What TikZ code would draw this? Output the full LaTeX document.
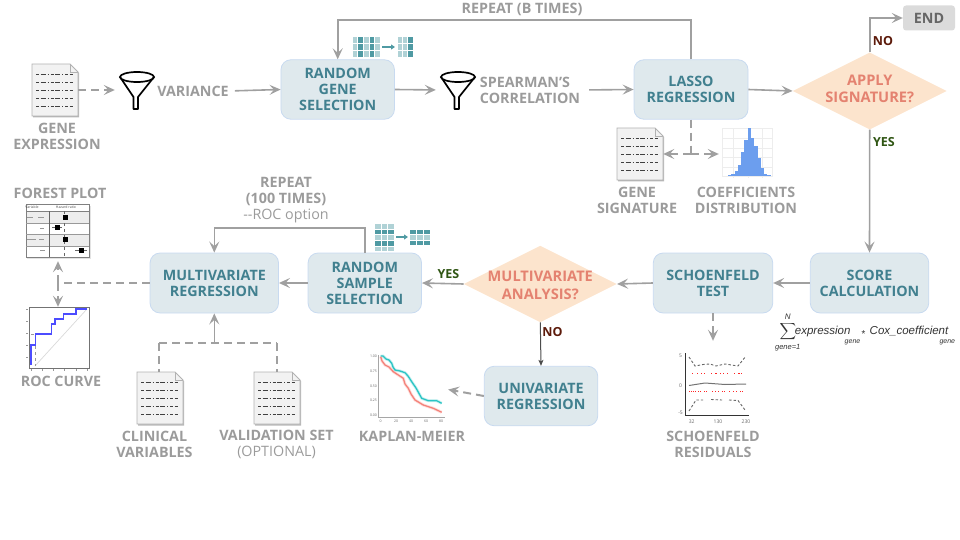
\documentclass[tikz,border=0pt]{standalone}
\RequirePackage{amsmath}
\RequirePackage{fontspec}
\RequirePackage{tikz}
\usetikzlibrary{arrows.meta}
\usetikzlibrary{shapes.geometric}
\setmainfont{Open Sans}
\newfontfamily\formulafont{Liberation Sans}

\definecolor{linegray}{HTML}{A0A0A0}
\definecolor{labelgray}{HTML}{9B9B9B}
\definecolor{boxfill}{HTML}{DFE9ED}
\definecolor{boxedge}{HTML}{C8DAF0}
\definecolor{boxtext}{HTML}{41808F}
\definecolor{diamfill}{HTML}{FCE4CD}
\definecolor{diamtext}{HTML}{E48270}
\definecolor{yesgreen}{HTML}{2F5513}
\definecolor{nored}{HTML}{5C1A0A}
\definecolor{cellteal}{HTML}{4F9AA3}
\definecolor{histblue}{HTML}{6C9EEE}
\definecolor{kmteal}{HTML}{2BC4C4}
\definecolor{kmred}{HTML}{F4827A}

\tikzset{
    stage/.style={draw=boxedge,fill=boxfill,rounded corners=10pt,line width=0.8pt,minimum height=59.5pt,
        text=boxtext,align=center,inner sep=0pt,font=\bfseries\fontsize{14.3}{16}\selectfont},
    decision/.style={diamond,fill=diamfill,aspect=2,inner sep=0pt,minimum width=#1,minimum height=#1/2},
    decisiontext/.style={text=diamtext,align=center,inner sep=0pt,font=\bfseries\fontsize{14.6}{17.5}\selectfont},
    caption/.style={text=labelgray,align=center,inner sep=0pt,font=\bfseries\fontsize{14.3}{16}\selectfont},
    answer/.style={inner sep=0pt,font=\bfseries\fontsize{12.5}{14}\selectfont},
    holder/.style={inner sep=0pt,minimum width=#1},
    flow/.style={draw=linegray,line width=1.6pt,-{Stealth[length=11pt,width=10pt,inset=4.5pt]}},
    plainflow/.style={draw=linegray,line width=1.6pt},
    dashflow/.style={draw=linegray,line width=2pt,dash pattern=on 8pt off 5pt,-{Stealth[length=11pt,width=10pt,inset=4.5pt]}},
    dashplain/.style={draw=linegray,line width=2pt,dash pattern=on 8pt off 5pt},
    tick/.style={inner sep=0pt,text=black!60,font=\fontsize{3.5}{4}\selectfont},
    formulatext/.style={inner sep=0pt,text=black!80,font=\formulafont\itshape\fontsize{#1}{#1}\selectfont},
    sheet/.pic={
        \fill[black!28] (-22,-25) -- (16,-25) -- (24,-17) -- (24,27.5) -- (-22,27.5) -- cycle;
        \draw[fill=black!5,draw=black!30,line width=0.8pt] (-23,-26) -- (15,-26) -- (23,-18) -- (23,26) -- (-23,26) -- cycle;
        \draw[draw=black!30,line width=0.6pt] (15,-26) -- (15,-18) -- (23,-18);
        \foreach \y in {-16,-8,0,8,16}
            \draw[black!75,line width=0.5pt,dash pattern=on 3pt off 1.5pt on 5pt off 2pt on 1pt off 2pt] (-19,\y) -- (18,\y);
    },
    funnel/.pic={
        \draw[black,line width=1.7pt,line join=round] (-17,-13) -- (-3.5,7) -- (-3.5,19) -- (1,19) -- (1,7) -- (17,-13);
        \draw[black,line width=1.7pt] (0,-13) ellipse (17 and 5);
    }
}

\newcommand{\cellgrid}[7]{
    \foreach \c in {1,...,#3}
        \foreach \r in {1,...,#4} {
            \pgfmathtruncatemacro\tone{ifthenelse(isodd(#7),45,100)}
            \fill[cellteal!\tone!white,draw=white,line width=0.3pt] ({#1+(\c-1)*#5},{#2+(\r-1)*#6}) rectangle ++(#5,#6);
        }
}

\begin{document}
\begin{tikzpicture}[x=1pt,y=-1pt]
                \useasboundingbox (0,0) rectangle (960,540);

                \node[stage,minimum width=113.5pt] (randomgene) at (337.7,89.5) {RANDOM\\GENE\\SELECTION};
                \node[stage,minimum width=114pt] (lasso) at (691,89.5) {LASSO\\REGRESSION};
                \node[stage,minimum width=118.5pt,minimum height=60pt] (score) at (869.5,283) {SCORE\\CALCULATION};
                \node[stage,minimum width=119.5pt,minimum height=60pt] (schoenfeld) at (713,283) {SCHOENFELD\\TEST};
                \node[stage,minimum width=113.5pt,minimum height=60pt] (randomsample) at (364.8,283) {RANDOM\\SAMPLE\\SELECTION};
                \node[stage,minimum width=128.5pt,minimum height=60pt] (multireg) at (214.3,283) {MULTIVARIATE\\REGRESSION};
                \node[stage,minimum width=113.5pt] (unireg) at (541,396) {UNIVARIATE\\REGRESSION};

                \node[decision=154pt] (applydiam) at (869.7,91) {};
                \node[decisiontext] (applytext) at (869.7,89) {APPLY\\SIGNATURE?};
                \node[decision=153pt] (multidiam) at (540.3,284) {};
                \node[decisiontext] (multitext) at (540.3,285.5) {MULTIVARIATE\\ANALYSIS?};

                \node[fill=black!14,rounded corners=3pt,minimum width=52pt,minimum height=25pt,inner sep=0pt,text=black!60,font=\bfseries\fontsize{14.3}{16}\selectfont] (endbox) at (929,18) {END};

                \node[holder=46pt,minimum height=52pt] (genedoc) at (55,90) {};
                \node[holder=46pt,minimum height=52pt] (sigdoc) at (640,154) {};
                \node[holder=46pt,minimum height=52pt] (clindoc) at (160,398) {};
                \node[holder=46pt,minimum height=52pt] (validoc) at (277,398) {};
                \pic at (genedoc) {sheet};
                \pic at (sigdoc) {sheet};
                \pic at (clindoc) {sheet};
                \pic at (validoc) {sheet};

                \node[holder=34pt,minimum height=38pt] (varfunnel) at (137,90) {};
                \node[holder=34pt,minimum height=38pt] (corfunnel) at (458,90) {};
                \pic at (varfunnel) {funnel};
                \pic at (corfunnel) {funnel};

                \node[caption] (genecap) at (57,136) {GENE\\EXPRESSION};
                \node[caption] (varcap) at (193,91) {VARIANCE};
                \node[caption,align=left] (corcap) at (530,90) {SPEARMAN’S\\CORRELATION};
                \node[caption] (sigcap) at (637,200) {GENE\\SIGNATURE};
                \node[caption] (coefcap) at (746,200) {COEFFICIENTS\\DISTRIBUTION};
                \node[caption] (loopcap) at (522,9) {REPEAT (B TIMES)};
                \node[caption] (repcap) at (286,200.5) {REPEAT\\(100 TIMES)\\\mdseries -{}-ROC option};
                \node[caption] (forestcap) at (60,193) {FOREST PLOT};
                \node[caption] (roccap) at (61,381) {ROC CURVE};
                \node[caption] (clincap) at (154.5,444) {CLINICAL\\VARIABLES};
                \node[caption] (valicap) at (276.5,444) {VALIDATION SET\\\mdseries (OPTIONAL)};
                \node[caption] (kmcap) at (412,436) {KAPLAN-MEIER};
                \node[caption] (rescap) at (713,444.5) {SCHOENFELD\\RESIDUALS};

                \node[answer,text=nored] (applyno) at (883,41) {NO};
                \node[answer,text=yesgreen] (applyyes) at (884,142) {YES};
                \node[answer,text=yesgreen] (multiyes) at (448.5,274) {YES};
                \node[answer,text=nored] (multino) at (552.5,332) {NO};

                \node[holder=50pt,minimum height=50pt] (histbox) at (747,154) {};
                \node[holder=65pt,minimum height=54pt] (forestbox) at (58,231) {};
                \node[holder=62pt,minimum height=61pt] (rocbox) at (58,337.5) {};
                \node[holder=73pt,minimum height=68pt] (kmbox) at (408.5,389) {};
                \node[holder=75pt,minimum height=70pt] (resbox) at (713,388) {};

                \coordinate (geneloop) at (514,20);
                \coordinate (sampleloop) at (290,228);
                \coordinate (lassosplit) at (691,154);
                \coordinate (forestsplit) at (58,283);
                \coordinate (inputsplit) at (214.3,343);
                \coordinate (clinbend) at (159,343);
                \coordinate (valibend) at (277,343);

                \draw[dashflow,shorten >=5pt] (genedoc.east) -- (varfunnel.west);
                \draw[flow,shorten <=6pt] (varcap.east) -- (randomgene.west);
                \draw[flow,shorten >=5pt] (randomgene.east) -- (corfunnel.west);
                \draw[flow,shorten <=9pt] (corcap.east) -- (lasso.west);
                \draw[flow] (lasso.east) -- (applydiam.west);
                \draw[plainflow,-] (lasso.north) |- (geneloop);
                \draw[flow] (geneloop) -| (randomgene.north);
                \draw[flow] (applydiam.north) |- (endbox.west);
                \draw[flow] (applydiam.south) -- (score.north);
                \draw[dashplain] (lasso.south) -- (lassosplit);
                \draw[dashflow] (lassosplit) -- (sigdoc.east);
                \draw[dashflow,shorten >=3pt] (lassosplit) -- (histbox.west);
                \draw[flow] (score.west) -- (schoenfeld.east);
                \draw[flow] (schoenfeld.west) -- (multidiam.east);
                \draw[dashflow,shorten >=12pt] (schoenfeld.south) -- (resbox.north);
                \draw[flow] (multidiam.west) -- (randomsample.east);
                \draw[black!70,line width=1pt,-{Stealth[length=6pt,width=5pt,inset=1.5pt]}] (multidiam.south) -- (unireg.north);
                \draw[dashflow,shorten >=3pt] (unireg.west) -- (kmbox.east);
                \draw[flow] (randomsample.west) -- (multireg.east);
                \draw[plainflow] (randomsample.north) |- (sampleloop);
                \draw[flow] (sampleloop) -| (multireg.north);
                \draw[dashplain] (multireg.west) -- (forestsplit);
                \draw[dashflow,shorten >=3pt] (forestsplit) -- (forestbox.south);
                \draw[dashflow] (forestsplit) -- (rocbox.north);
                \draw[flow] (inputsplit) -- (multireg.south);
                \draw[dashplain] (clinbend) -- (valibend);
                \draw[dashplain] (clinbend) -- (159,372);
                \draw[dashplain] (valibend) -- (validoc.north);

                \cellgrid{351.7}{36}{5}{3}{5.67}{7}{\c}
                \cellgrid{396.7}{36}{3}{3}{5.33}{7}{(\c+1)/2}
                \coordinate (genetabfrom) at (382,47);
                \coordinate (genetabto) at (395,47);
                \draw[cellteal,line width=2pt,-{Stealth[length=4pt,width=5pt,inset=0pt]}] (genetabfrom) -- (genetabto);
                \cellgrid{374.3}{223.3}{3}{5}{6.67}{5.6}{\r}
                \cellgrid{409}{229.3}{3}{3}{6.9}{5.2}{\r+1}
                \coordinate (sampletabfrom) at (396,237);
                \coordinate (sampletabto) at (408,237);
                \draw[cellteal,line width=2pt,-{Stealth[length=4pt,width=5pt,inset=0pt]}] (sampletabfrom) -- (sampletabto);

                \draw[black!7,line width=0.5pt] (722,128) rectangle (772,176);
                \foreach \x in {733,748,762}
                    \draw[black!7,line width=0.5pt] (\x,128) -- (\x,178);
                \foreach \y in {138,148,157,167}
                    \draw[black!7,line width=0.5pt] (722,\y) -- (772,\y);
                \foreach \h [count=\i] in {1,2,5,11,24,36,48,38,30,18,8,2,1}
                    \fill[histblue] ({728.2+3.25*(\i-1)},176) rectangle ++(3.3,-\h);

                \fill[black!22,opacity=0.5] (27,206) rectangle (90.5,259);
                \fill[white] (26,204) rectangle (89,257);
                \fill[black!7] (26,211) rectangle (89,223);
                \fill[black!7] (26,234) rectangle (89,246);
                \draw[black!50,line width=0.5pt] (26,204) rectangle (89,257);
                \draw[black!50,line width=0.5pt] (26,211) -- (89,211);
                \draw[black!40,line width=0.4pt] (26,223) -- (89,223) (26,234) -- (89,234) (26,246) -- (89,246);
                \draw[black!60,line width=0.6pt] (49.5,211) -- (49.5,257);
                \draw[black!60,line width=0.4pt,dashed] (64.5,211) -- (64.5,257);
                \node[tick,text=black!70] (forestvar) at (32,207.5) {Variable};
                \node[tick,text=black!70] (foresthr) at (66,207.5) {Hazard ratio};
                \foreach \x/\y/\w in {65/217/2,57/227/5,65/239/2,81/250/6} {
                    \draw[black!60,line width=0.4pt] ({\x-\w},\y) -- ({\x+\w},\y);
                    \fill[black] ({\x-2.5},{\y-2.5}) rectangle ++(5,5);
                }
                \draw[black!40,line width=0.5pt] (27,217) -- (33,217) (38,217) -- (44,217) (40,228) -- (44,228) (27,239) -- (36,239) (39,239) -- (44,239) (40,250) -- (45,250);

                \draw[black!15,line width=0.7pt] (35,366) -- (87,309);
                \draw[black!40,line width=0.4pt,dashed] (35.3,334) -- (35.3,366) (31,334) -- (35.3,334);
                \draw[blue!70!white,line width=1.1pt] (31,365) -- (31,345) -- (35.3,345) -- (35.3,334) -- (51.7,334) -- (51.7,324) -- (55,324) -- (55,319) -- (63.3,319) -- (63.3,314) -- (76,314) -- (76,309) -- (87,309);
                \draw[black!55,line width=1pt] (29,307) rectangle (89,368);
                \foreach \x in {31,42,53,64,76,87}
                    \draw[black!40,line width=0.5pt] (\x,369) -- (\x,371);
                \foreach \y in {309,321,333,345,357}
                    \draw[black!40,line width=0.5pt] (26,\y) -- (27.5,\y);

                \draw[black!35,line width=1pt] (378,355) -- (378,417) -- (445,417);
                \foreach \w/\o in {3/0.25,1.3/1} {
                    \draw[kmteal,line width=\w pt,opacity=\o] (380.7,356) -- (383,356) -- (386,359) -- (389,360) -- (391.7,363.3) -- (393,367) -- (395,370) -- (400,371) -- (405,372.7) -- (408,376) -- (411.7,381.7) -- (416,388) -- (421.7,398.3) -- (428.3,400.7) -- (436.7,400.7) -- (441.7,403.3);
                    \draw[kmred,line width=\w pt,opacity=\o] (380.7,356.7) -- (382,361) -- (385,365) -- (389,367) -- (393.3,371.7) -- (403.3,378.3) -- (405,384) -- (408.3,388.3) -- (411,394) -- (415,400) -- (423.3,405) -- (433.3,408.3) -- (441.7,412.3);
                }
                \foreach \y/\t in {356.7/1.00,371/0.75,386/0.50,400/0.25,415/0.00}
                    \node[tick] at (373.5,\y) {\t};
                \foreach \x/\t in {380.7/0,396/20,411/40,426/60,441/80}
                    \node[tick] at (\x,421.5) {\t};

                \draw[black!80,line width=0.9pt] (685.7,353) -- (685.7,415.7) -- (749,415.7);
                \draw[black!60,line width=0.9pt,dash pattern=on 2.5pt off 2pt] (689,357) -- (695,366) -- (703,364.5) -- (710,364) -- (716,366) -- (725,364) -- (738,366) -- (746,356);
                \draw[black!60,line width=0.9pt,dash pattern=on 2.5pt off 2pt] (689,411) -- (696,400) -- (703,400) (711,399.5) -- (722,400) (729,400) -- (738,400.5) -- (745,410);
                \draw[black!55,line width=1pt] (689,385.5) -- (705,383) -- (725,384.5) -- (746,384);
                \foreach \x in {692,697,701,704,711,715,716,720,723,727,734,738,739,741}
                    \fill[red!85] (\x,372.5) rectangle ++(1.3,1.8);
                \foreach \x in {689,691,693,695,698,700,704,706,712,715,718,722,724,729,733,736,740,742}
                    \fill[red!85] (\x,390.5) rectangle ++(1.3,1.8);
                \foreach \y/\t in {355.7/5,385.7/0,413/-5}
                    \node[tick,font=\fontsize{5}{6}\selectfont] at (680.5,\y) {\t};
                \foreach \x/\t in {691.7/32,718/130,746/230}
                    \node[tick,font=\fontsize{5}{6}\selectfont] at (\x,421.3) {\t};

                \node[formulatext=8] (sumtop) at (787.7,316.5) {N};
                \node[inner sep=0pt,text=black!80,scale=1.15] (sumsign) at (788,332) {$\displaystyle\sum$};
                \node[formulatext=7.5] (sumbottom) at (787.7,348) {gene=1};
                \node[formulatext=11.5] (formexpr) at (822.7,332) {expression};
                \node[formulatext=7] (formexprsub) at (852.5,342.5) {gene};
                \node[formulatext=10] (formstar) at (863,334) {*};
                \node[formulatext=11.5] (formcox) at (909,331.5) {Cox\_coefficient};
                \node[formulatext=7] (formcoxsub) at (947.3,342.5) {gene};
            \end{tikzpicture}
\end{document}
